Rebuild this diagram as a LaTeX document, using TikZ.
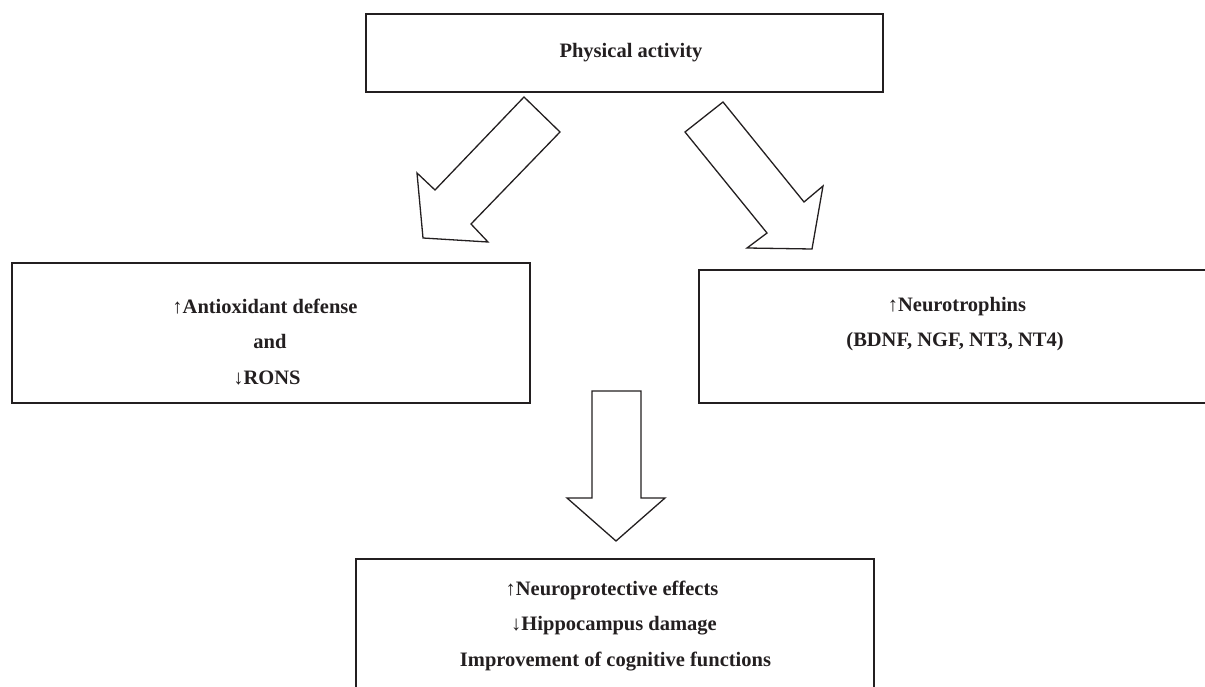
\documentclass[tikz,border=0pt]{standalone}
\usepackage{fontspec}
\setmainfont{Liberation Serif}
\definecolor{ink}{HTML}{231F20}
\begin{document}
\begin{tikzpicture}[x=1pt,y=-1pt,
  box/.style={draw=ink,line width=2pt,inner sep=0pt,outer sep=0pt},
  lbl/.style={font=\fontsize{20.5}{24}\selectfont\bfseries,text=ink,inner sep=0pt,anchor=center},
  blockarrow/.style={draw=ink,line width=1.3pt,line join=miter,fill=white}]
\useasboundingbox (0,0) rectangle (1205,687);
% boxes
\node[box,minimum width=517pt,minimum height=78pt] (top) at (624.5,53) {};
\node[box,minimum width=518pt,minimum height=140pt] (left) at (271,333) {};
\node[box,minimum width=530pt,minimum height=133pt] (right) at (964,336.5) {};
\node[box,minimum width=518pt,minimum height=150pt] (bottom) at (615,634) {};
% texts
\node[lbl] (t1) at (631,53) {Physical activity};
\node[lbl] (l1) at (265,307) {↑Antioxidant defense};
\node[lbl] (l2) at (270,341) {and};
\node[lbl] (l3) at (267,378) {↓RONS};
\node[lbl] (r1) at (957,307) {↑Neurotrophins};
\node[lbl] (r2) at (955,342) {(BDNF, NGF, NT3, NT4)};
\node[lbl] (b1) at (612,590) {↑Neuroprotective effects};
\node[lbl] (b2) at (614,626) {↓Hippocampus damage};
\node[lbl] (b3) at (615.5,662) {Improvement of cognitive functions};
% block arrows
\draw[blockarrow] (524,97) -- (560,132) -- (471,224) -- (488,242) -- (423,238) -- (417,173) -- (435,190) -- cycle;
\draw[blockarrow] (723,102) -- (685,132) -- (767,233) -- (747,248) -- (812,249) -- (823,186) -- (804,202) -- cycle;
\draw[blockarrow] (592,391) -- (641,391) -- (641,498) -- (665,498) -- (616,541) -- (567,498) -- (592,498) -- cycle;
\end{tikzpicture}
\end{document}
